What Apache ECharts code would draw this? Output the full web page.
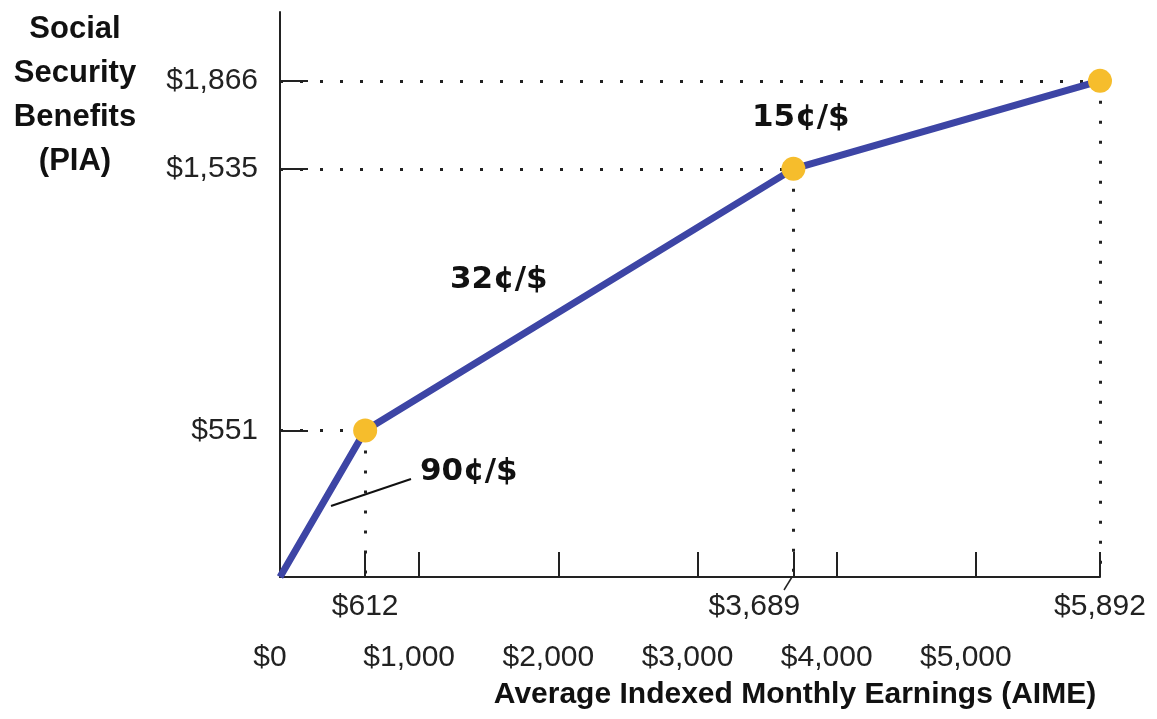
<!DOCTYPE html>
<html>
<head>
<meta charset="utf-8">
<script src="https://cdn.jsdelivr.net/npm/echarts@6.0.0/dist/echarts.min.js"></script>
<style>
  html, body { margin: 0; padding: 0; background: #fff; }
  #chart { width: 1157px; height: 719px; }
</style>
</head>
<body>
<div id="chart"></div>
<script>
// bend points of the PIA formula (AIME, PIA)
var aime = [0, 612, 3689, 5892]
var pia = [0, 551, 1535, 1866]
var rateLabels = ['90¢/$', '32¢/$', '15¢/$']

var xMax = 5892
var yMax = 2125
var roundTicks = [0, 1000, 2000, 3000, 4000, 5000]
var bendTicks = [612, 3689, 5892]
var yTicks = [551, 1535, 1866]

var chartDom = document.getElementById('chart')
var myChart = echarts.init(chartDom)
var option

function money (v) {
  return '$' + Number(v).toLocaleString('en-US')
}

var points = aime.map(function (x, i) {
  return {
    value: [x, pia[i]],
    symbolSize: i === 0 ? 0 : 24
  }
})

// dotted guides: from y axis to the point, and from the point down to x axis
var guides = []
for (var i = 1; i < aime.length; i++) {
  guides.push([{ coord: [0, pia[i]] }, { coord: [aime[i], pia[i]] }])
  guides.push([{ coord: [aime[i], pia[i]] }, { coord: [aime[i], 0] }])
}

var labelFont = {
  fontFamily: 'Liberation Sans',
  fontSize: 30,
  color: '#222'
}

option = {
  animation: false,
  grid: {
    left: 280,
    right: 57,
    top: 12,
    bottom: 142
  },
  xAxis: [
    {
      type: 'value',
      min: 0,
      max: xMax,
      axisLine: { lineStyle: { color: '#222', width: 2 } },
      axisTick: {
        show: true,
        inside: true,
        length: 25,
        customValues: roundTicks.slice(1).concat(bendTicks),
        lineStyle: { color: '#222', width: 2 }
      },
      splitLine: { show: false },
      axisLabel: {
        customValues: bendTicks,
        margin: 15,
        fontFamily: labelFont.fontFamily,
        fontSize: labelFont.fontSize,
        color: labelFont.color,
        formatter: function (v) {
          if (v === 3689) return '{shift|' + money(v) + '}'
          return money(v)
        },
        rich: {
          shift: {
            fontFamily: labelFont.fontFamily,
            fontSize: labelFont.fontSize,
            color: labelFont.color,
            padding: [0, 78, 0, 0]
          }
        }
      }
    },
    {
      type: 'value',
      position: 'bottom',
      min: 0,
      max: xMax,
      axisLine: { show: false },
      axisTick: { show: false },
      splitLine: { show: false },
      axisLabel: {
        customValues: roundTicks,
        margin: 66,
        padding: [0, 20, 0, 0],
        fontFamily: labelFont.fontFamily,
        fontSize: labelFont.fontSize,
        color: labelFont.color,
        formatter: money
      }
    }
  ],
  yAxis: {
    type: 'value',
    min: 0,
    max: yMax,
    axisLine: { show: true, lineStyle: { color: '#222', width: 2 } },
    axisTick: {
      show: true,
      inside: true,
      length: 28,
      customValues: yTicks,
      lineStyle: { color: '#222', width: 2 }
    },
    splitLine: { show: false },
    axisLabel: {
      customValues: yTicks,
      margin: 22,
      padding: [14, 0, 0, 0],
      fontFamily: labelFont.fontFamily,
      fontSize: labelFont.fontSize,
      color: labelFont.color,
      formatter: money
    }
  },
  series: [
    {
      type: 'line',
      data: points,
      symbol: 'circle',
      lineStyle: { color: '#3d45a5', width: 7 },
      itemStyle: { color: '#f6bd2c' },
      z: 3,
      markLine: {
        silent: true,
        symbol: 'none',
        label: { show: false },
        lineStyle: { color: '#222', width: 3, type: [3, 17] },
        z: 1,
        data: guides
      }
    }
  ],
  graphic: [
    {
      type: 'text',
      style: {
        text: 'Social\nSecurity\nBenefits\n(PIA)',
        x: 75, y: 7,
        textAlign: 'center',
        font: 'bold 31px "Liberation Sans"',
        lineHeight: 44,
        fill: '#111'
      }
    },
    {
      type: 'text',
      style: {
        text: 'Average Indexed Monthly Earnings (AIME)',
        x: 795, y: 695,
        textAlign: 'center',
        textVerticalAlign: 'middle',
        font: 'bold 30px "Liberation Sans"',
        fill: '#111'
      }
    },
    {
      type: 'text',
      style: {
        text: rateLabels[0],
        x: 420, y: 472,
        textVerticalAlign: 'middle',
        font: 'bold 31px "DejaVu Sans"',
        fill: '#111'
      }
    },
    {
      type: 'text',
      style: {
        text: rateLabels[1],
        x: 450, y: 280,
        textVerticalAlign: 'middle',
        font: 'bold 31px "DejaVu Sans"',
        fill: '#111'
      }
    },
    {
      type: 'text',
      style: {
        text: rateLabels[2],
        x: 752, y: 118,
        textVerticalAlign: 'middle',
        font: 'bold 31px "DejaVu Sans"',
        fill: '#111'
      }
    },
    {
      type: 'line',
      shape: { x1: 331, y1: 506, x2: 411, y2: 479 },
      style: { stroke: '#111', lineWidth: 2 }
    },
    {
      type: 'line',
      shape: { x1: 792, y1: 577, x2: 784, y2: 590 },
      style: { stroke: '#222', lineWidth: 1.5 }
    }
  ]
}

option && myChart.setOption(option)
</script>
</body>
</html>
